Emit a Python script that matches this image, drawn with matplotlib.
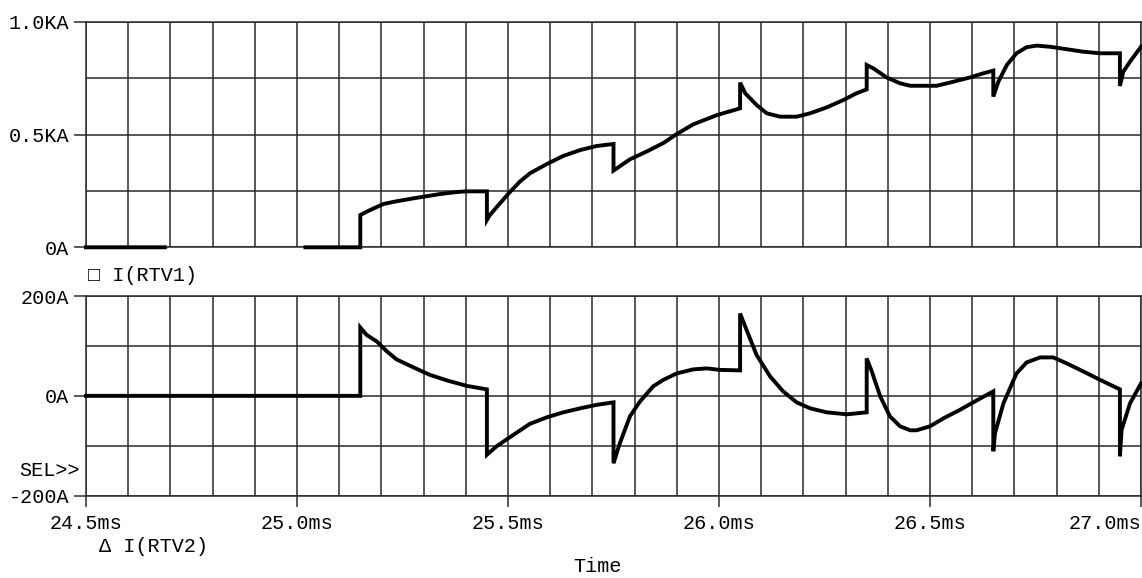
import numpy as np
import matplotlib
matplotlib.use("Agg")
import matplotlib.pyplot as plt
from matplotlib.ticker import MultipleLocator, FixedLocator

plt.rcParams['font.family'] = ['Liberation Mono', 'DejaVu Sans Mono']

# I(RTV1): time in ms, current in A (NaN marks a break in the trace)
t_rtv1 = [24.5, 24.687, np.nan, 25.02, 25.15, 25.15, 25.157, 25.173, 25.205, 25.236,
          25.276, 25.299, 25.339, 25.378, 25.402, 25.45, 25.45, 25.457, 25.481,
          25.505, 25.528, 25.552, 25.592, 25.631, 25.671, 25.71, 25.75, 25.75,
          25.789, 25.829, 25.868, 25.9, 25.939, 25.995, 26.05, 26.05, 26.062,
          26.089, 26.113, 26.145, 26.184, 26.216, 26.255, 26.295, 26.326, 26.35,
          26.35, 26.366, 26.397, 26.429, 26.453, 26.516, 26.547, 26.595, 26.626,
          26.65, 26.65, 26.662, 26.682, 26.705, 26.729, 26.753, 26.784, 26.824,
          26.863, 26.903, 26.95, 26.95, 26.958, 26.974, 27.0]
i_rtv1 = [0, 0, np.nan, 0, 0, 143, 150, 165, 192, 204,
          217, 224, 236, 245, 248, 248, 121, 143, 195,
          246, 291, 328, 369, 405, 431, 449, 458, 340,
          390, 425, 462, 502, 545, 586, 616, 730, 683,
          631, 594, 579, 579, 594, 620, 653, 683, 700,
          808, 793, 753, 727, 716, 716, 730, 753, 771,
          783, 668, 734, 808, 860, 887, 894, 889, 878,
          867, 860, 860, 715, 778, 823, 889]

# I(RTV2): time in ms, current in A
t_rtv2 = [24.5, 25.15, 25.15, 25.165, 25.189, 25.213, 25.236, 25.276, 25.315,
          25.355, 25.402, 25.45, 25.45, 25.473, 25.513, 25.552, 25.592, 25.631,
          25.671, 25.71, 25.75, 25.75, 25.765, 25.789, 25.813, 25.844, 25.868,
          25.9, 25.939, 25.971, 26.002, 26.05, 26.05, 26.062, 26.089, 26.121,
          26.152, 26.184, 26.216, 26.255, 26.303, 26.35, 26.35, 26.362, 26.382,
          26.405, 26.429, 26.453, 26.468, 26.5, 26.532, 26.571, 26.611, 26.65,
          26.65, 26.654, 26.674, 26.705, 26.729, 26.761, 26.792, 26.824, 26.863,
          26.903, 26.95, 26.95, 26.954, 26.974, 27.0]
i_rtv2 = [0, 0, 137, 122, 109, 89, 73, 57, 42,
          31, 20, 13, -118, -101, -78, -56, -43, -33,
          -25, -18, -13, -135, -95, -41, -11, 19, 32,
          45, 53, 55, 52, 51, 165, 139, 82, 39,
          9, -13, -25, -33, -37, -33, 75, 49, -1,
          -41, -61, -69, -69, -61, -45, -28, -9, 9,
          -111, -75, -15, 45, 67, 77, 77, 65, 49,
          32, 13, -121, -68, -15, 25]

x_ticks = [24.5, 25.0, 25.5, 26.0, 26.5, 27.0]
x_tick_labels = ['24.5ms', '25.0ms', '25.5ms', '26.0ms', '26.5ms', '27.0ms']
top_ticks = [0, 500, 1000]
top_tick_labels = ['0A', '0.5KA', '1.0KA']
bot_ticks = [-200, 0, 200]
bot_tick_labels = ['-200A', '0A', '200A']

W, H = 1142, 578
fig = plt.figure(figsize=(W / 100, H / 100), dpi=100)

def frac(left, top, right, bottom):
    return [left / W, 1 - bottom / H, (right - left) / W, (bottom - top) / H]

ax1 = fig.add_axes(frac(86, 21.7, 1141, 247.3))
ax2 = fig.add_axes(frac(86, 296, 1141, 495.7))

grid_col = '#2a2a2a'
fs = 14.5

for ax in (ax1, ax2):
    ax.set_xlim(24.5, 27.0)
    ax.xaxis.set_minor_locator(MultipleLocator(0.1))
    ax.grid(True, which='both', axis='x', color=grid_col, linewidth=1.1)
    ax.grid(True, which='both', axis='y', color=grid_col, linewidth=1.1)
    for s in ax.spines.values():
        s.set_color(grid_col)
        s.set_linewidth(1.1)
    ax.tick_params(which='both', direction='out', color=grid_col, width=1.1,
                   labelsize=fs, pad=3)
    ax.tick_params(which='minor', length=0)
    ax.tick_params(axis='y', which='major', length=9)
    ax.set_axisbelow(True)

# upper panel
ax1.set_ylim(0, 1000)
ax1.yaxis.set_major_locator(FixedLocator(top_ticks))
ax1.set_yticklabels(top_tick_labels)
ax1.yaxis.set_minor_locator(MultipleLocator(250))
ax1.set_xticks(x_ticks)
ax1.tick_params(axis='x', which='major', length=0, labelbottom=False)
ax1.plot(t_rtv1, i_rtv1, color='black', linewidth=2.8, solid_joinstyle='miter',
         clip_on=False, zorder=3)

# lower panel
ax2.set_ylim(-200, 200)
ax2.yaxis.set_major_locator(FixedLocator(bot_ticks))
ax2.set_yticklabels(bot_tick_labels)
ax2.yaxis.set_minor_locator(MultipleLocator(100))
ax2.set_xticks(x_ticks)
ax2.set_xticklabels(x_tick_labels)
ax2.tick_params(axis='x', which='major', length=8, pad=5)
# the last time label sits flush with the right edge
ax2.get_xticklabels()[-1].set_horizontalalignment('right')
ax2.plot(t_rtv2, i_rtv2, color='black', linewidth=2.8, solid_joinstyle='miter',
         clip_on=False, zorder=3)

# trace names, selection marker and axis title
fig.text(88 / W, 1 - 275 / H, '\u25a1 I(RTV1)', fontsize=fs, va='center', ha='left')
fig.text(99 / W, 1 - 547 / H, '\u0394 I(RTV2)', fontsize=fs, va='center', ha='left')
fig.text(80 / W, 1 - 470 / H, 'SEL>>', fontsize=fs, va='center', ha='right')
fig.text(597 / W, 1 - 567 / H, 'Time', fontsize=fs, va='center', ha='center')

fig.savefig('out.png', dpi=100)
